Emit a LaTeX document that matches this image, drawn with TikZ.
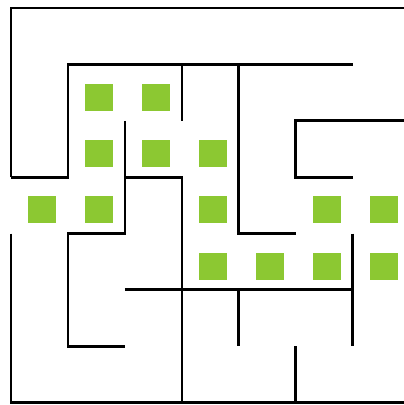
\documentclass[tikz,border=0pt]{standalone}
\usepackage{tikz}
\definecolor{mazeGreen}{HTML}{8CC832}

\begin{document}
\begin{tikzpicture}[x=1.425cm, y=-1.41cm,
    wall/.style={draw=black, line width=2.1pt, line join=miter},
    gem/.style={fill=mazeGreen}]
    \useasboundingbox (-0.193,-0.142) rectangle (6.895,7.04);
    \clip (-0.193,-0.142) rectangle (6.895,7.04);
    % outer walls
    \draw[wall] (0,3) -- (0,0) -- (7,0);
    \draw[wall] (0,4) -- (0,7) -- (7,7);
    % inner walls
    \draw[wall] (0,3) -- (1,3) -- (1,1) -- (6,1);
    \draw[wall] (3,1) -- (3,2);
    \draw[wall] (4,1) -- (4,4) -- (5,4);
    \draw[wall] (2,2) -- (2,4) -- (1,4) -- (1,6) -- (2,6);
    \draw[wall] (2,3) -- (3,3) -- (3,7);
    \draw[wall] (2,5) -- (6,5);
    \draw[wall] (4,5) -- (4,6);
    \draw[wall] (5,6) -- (5,7);
    \draw[wall] (6,4) -- (6,6);
    \draw[wall] (7,2) -- (5,2) -- (5,3) -- (6,3);
    % green squares
    \foreach \i/\j in {1/1,2/1,1/2,2/2,3/2,0/3,1/3,3/3,5/3,6/3,3/4,4/4,5/4,6/4}
      \fill[gem] (\i+0.544,\j+0.58) +(-0.24,-0.24) rectangle +(0.24,0.24);
\end{tikzpicture}
\end{document}
